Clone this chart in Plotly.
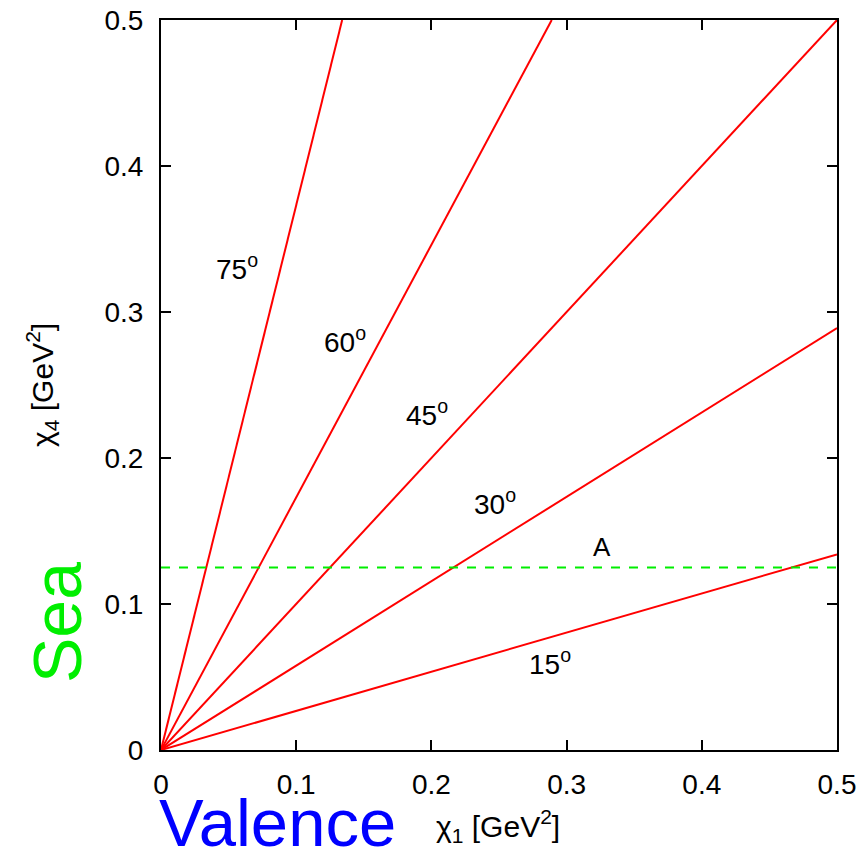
import plotly.graph_objects as go

# Data
angle_labels = ["15", "30", "45", "60", "75"]
line_x_end = [0.5, 0.5, 0.5, 0.289, 0.134]
line_y_end = [0.134, 0.289, 0.5, 0.5, 0.5]
label_x = [0.288, 0.247, 0.197, 0.136, 0.056]
label_y = [0.060, 0.170, 0.231, 0.281, 0.331]
line_A_x = [0.0, 0.5]
line_A_y = [0.125, 0.125]
A_label_pos = (0.326, 0.139)
tick_vals = [0, 0.1, 0.2, 0.3, 0.4, 0.5]
tick_text = ["0", "0.1", "0.2", "0.3", "0.4", "0.5"]

FONT = "Liberation Sans, Arial, sans-serif"

fig = go.Figure()
for xe, ye in zip(line_x_end, line_y_end):
    fig.add_trace(go.Scatter(x=[0, xe], y=[0, ye], mode="lines",
                             line=dict(color="#ff0000", width=2),
                             showlegend=False, hoverinfo="skip"))
fig.add_trace(go.Scatter(x=line_A_x, y=line_A_y, mode="lines",
                         line=dict(color="#00ee00", width=2, dash="dash"),
                         showlegend=False, hoverinfo="skip"))

for t, lx, ly in zip(angle_labels, label_x, label_y):
    fig.add_annotation(x=lx, y=ly, text=f"{t}<sup>o</sup>", showarrow=False,
                       xanchor="center", yanchor="middle",
                       font=dict(family=FONT, size=28, color="black"))
fig.add_annotation(x=A_label_pos[0], y=A_label_pos[1], text="A", showarrow=False,
                   xanchor="center", yanchor="middle",
                   font=dict(family=FONT, size=26, color="black"))

W, H = 867, 851
PW, PH = 676, 730
X0, Y1 = 161, 750  # plot-area left / bottom in page pixels


def px(xp):
    return (xp - X0) / PW


def py(yp):
    return (Y1 - yp) / PH


# axis titles
fig.add_annotation(xref="paper", yref="paper", x=px(498), y=py(826),
                   xanchor="center", yanchor="middle",
                   text="χ<sub>1</sub> [GeV<sup>2</sup>]", showarrow=False,
                   font=dict(family=FONT, size=30, color="black"))
fig.add_annotation(xref="paper", yref="paper", x=px(42), y=py(385),
                   xanchor="center", yanchor="middle",
                   text="χ<sub>4</sub> [GeV<sup>2</sup>]", showarrow=False, textangle=-90,
                   font=dict(family=FONT, size=30, color="black"))
fig.add_annotation(xref="paper", yref="paper", x=px(57), y=py(623),
                   xanchor="center", yanchor="middle",
                   text="Sea", showarrow=False, textangle=-90,
                   font=dict(family=FONT, size=68, color="#00ee00"))
fig.add_annotation(xref="paper", yref="paper", x=px(277), y=py(822),
                   xanchor="center", yanchor="middle",
                   text="Valence", showarrow=False,
                   font=dict(family=FONT, size=67, color="#0000ff"))

axis_common = dict(range=[0, 0.5], showgrid=False, zeroline=False, automargin=False,
                   showline=True, linecolor="black", linewidth=2, mirror="ticks",
                   ticks="inside", ticklen=10, tickwidth=1.5, tickcolor="black",
                   tickvals=tick_vals, ticktext=tick_text, ticklabeloverflow="allow",
                   tickfont=dict(family=FONT, size=28, color="black"))
fig.update_xaxes(**axis_common, ticklabelstandoff=8)
fig.update_yaxes(**axis_common, ticklabelstandoff=10)

fig.update_layout(width=W, height=H,
                  margin=dict(l=X0, r=W - (X0 + PW), t=20, b=H - Y1),
                  plot_bgcolor="white", paper_bgcolor="white", showlegend=False)
fig.write_html("out.html", config={"displayModeBar": False},
               post_script="document.body.style.margin='0';document.body.style.overflow='hidden';")
